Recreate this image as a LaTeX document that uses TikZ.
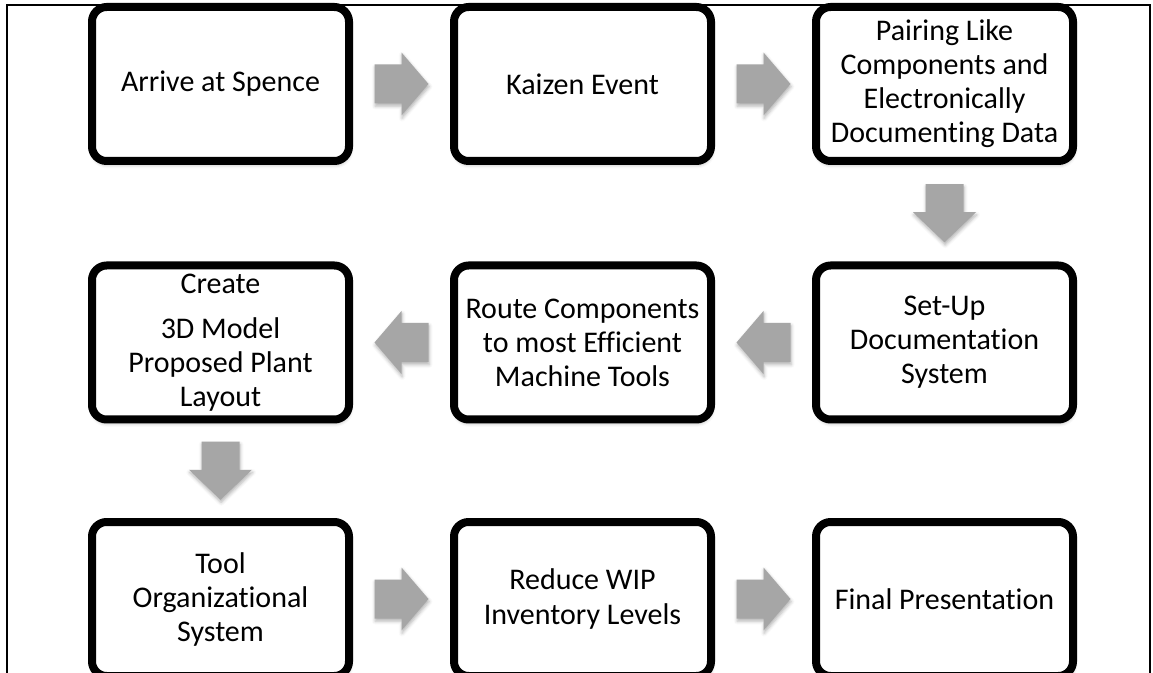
\documentclass[tikz,border=0pt]{standalone}
\usepackage{fontspec}
\setmainfont{Carlito}[Ligatures=NoCommon]
\usetikzlibrary{calc,shadows.blur}
\definecolor{arrowgray}{HTML}{A6A6A6}
\newcommand\rightarr[1]{\fill[blockarrow, shift={(#1)}] (-27,-19.5) -- (0,-19.5) -- (0,-31.5) -- (27,0) -- (0,31.5) -- (0,19.5) -- (-27,19.5) -- cycle;}
\newcommand\leftarr[1]{\fill[blockarrow, shift={(#1)}] (27,-19.5) -- (0,-19.5) -- (0,-31.5) -- (-27,0) -- (0,31.5) -- (0,19.5) -- (27,19.5) -- cycle;}
\newcommand\downarr[1]{\fill[blockarrow, shift={(#1)}] (-19,-29) -- (19,-29) -- (19,-1) -- (31.5,-1) -- (0,29) -- (-31.5,-1) -- (-19,-1) -- cycle;}
\begin{document}
\begin{tikzpicture}[x=0.75pt,y=-0.75pt,
  stepbox/.style={draw=black, fill=white, line width=6pt, rounded corners=11pt,
    minimum width=192.75pt, minimum height=115.5pt, inner sep=0pt, align=center,
    font=\fontsize{22.5}{25.5}\selectfont,
    blur shadow={shadow xshift=0.5pt, shadow yshift=-2.5pt, shadow blur radius=3pt, shadow opacity=35}},
  blockarrow/.style={fill=arrowgray,
    blur shadow={shadow xshift=0.5pt, shadow yshift=-2pt, shadow blur radius=2.5pt, shadow opacity=30}}]
\useasboundingbox (0,0) rectangle (1153,673);
\clip (0,0) rectangle (1153,673);
\draw[line width=1.5pt] (7,700) -- (7,5) -- (1150,5) -- (1150,700);
\node[stepbox] (n1) at (220.5,84) {Arrive at Spence};
\node[stepbox] (n2) at (582.5,84) {Kaizen Event};
\node[stepbox] (n3) at (944.5,84) {Pairing Like\\Components and\\Electronically\\Documenting Data};
\node[stepbox] (n4) at (944.5,342.5) {Set-Up\\Documentation\\System};
\node[stepbox] (n5) at (582.5,342.5) {Route Components\\to most Efficient\\Machine Tools};
\node[stepbox] (n6) at (220.5,342.5) {Create\\[8pt]3D Model\\Proposed Plant\\Layout};
\node[stepbox] (n7) at (220.5,599) {Tool\\Organizational\\System};
\node[stepbox] (n8) at (582.5,599) {Reduce WIP\\Inventory Levels};
\node[stepbox] (n9) at (944.5,599) {Final Presentation};
\coordinate (a1) at ($(n1.east)!0.5!(n2.west)$);
\coordinate (a2) at ($(n2.east)!0.5!(n3.west)$);
\coordinate (a3) at ($(n3.south)!0.5!(n4.north)$);
\coordinate (a4) at ($(n4.west)!0.5!(n5.east)$);
\coordinate (a5) at ($(n5.west)!0.5!(n6.east)$);
\coordinate (a6) at ($(n6.south)!0.5!(n7.north)$);
\coordinate (a7) at ($(n7.east)!0.5!(n8.west)$);
\coordinate (a8) at ($(n8.east)!0.5!(n9.west)$);
\rightarr{a1}
\rightarr{a2}
\downarr{a3}
\leftarr{a4}
\leftarr{a5}
\downarr{a6}
\rightarr{a7}
\rightarr{a8}
\end{tikzpicture}
\end{document}
